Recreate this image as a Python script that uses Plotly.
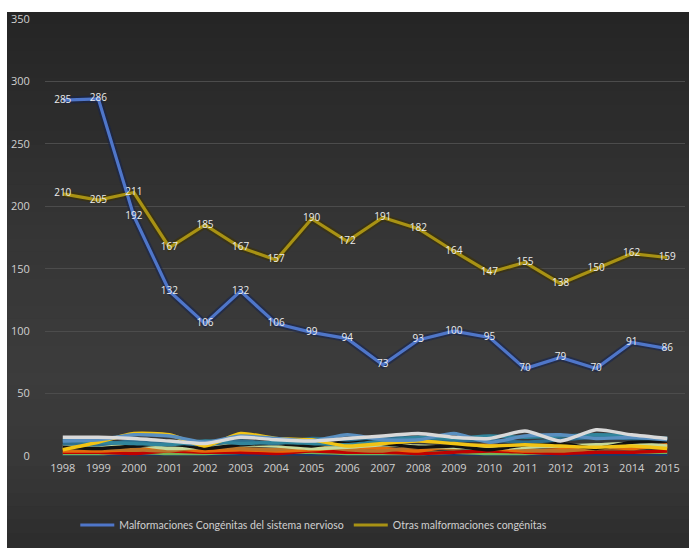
import plotly.graph_objects as go

years = [str(y) for y in range(1998, 2016)]

# main series
nervioso = [285, 286, 192, 132, 106, 132, 106, 99, 94, 73, 93, 100, 95, 70, 79, 70, 91, 86]
otras = [210, 205, 211, 167, 185, 167, 157, 190, 172, 191, 182, 164, 147, 155, 138, 150, 162, 159]

# minor groups (not shown in legend)
grupo_a = [15, 15, 14, 12, 10, 15, 13, 12, 14, 16, 18, 15, 14, 20, 12, 21, 17, 14]
grupo_b = [12, 13, 17, 16, 11, 16, 14, 12, 17, 13, 13, 18, 11, 16, 17, 14, 15, 13]
grupo_c = [5, 11, 18, 17, 8, 18, 14, 13, 8, 10, 12, 10, 8, 9, 8, 7, 8, 6]
grupo_d = [7, 6, 8, 10, 6, 9, 10, 8, 12, 10, 7, 8, 5, 9, 10, 6, 11, 12]
grupo_e = [10, 9, 12, 11, 9, 12, 10, 14, 13, 15, 14, 12, 13, 11, 13, 15, 14, 14]
grupo_f = [4, 4, 5, 6, 4, 5, 4, 5, 7, 6, 4, 8, 6, 4, 5, 7, 6, 9]
grupo_g = [6, 6, 5, 4, 7, 6, 5, 8, 5, 4, 7, 6, 9, 5, 4, 6, 8, 7]
grupo_h = [3, 3, 2, 4, 3, 3, 2, 4, 3, 3, 2, 3, 4, 3, 2, 3, 3, 4]
grupo_i = [2, 2, 3, 2, 2, 3, 3, 3, 2, 2, 2, 3, 2, 2, 3, 3, 3, 3]
grupo_j = [1, 1, 1, 0, 1, 1, 0, 1, 1, 1, 0, 1, 1, 0, 1, 1, 1, 1]
grupo_k = [0, 0, 1, 0, 0, 0, 1, 0, 0, 0, 1, 0, 0, 1, 0, 0, 0, 0]
grupo_l = [8, 7, 9, 6, 7, 9, 8, 6, 7, 9, 8, 7, 6, 7, 8, 9, 10, 8]
grupo_m = [13, 11, 10, 9, 12, 10, 11, 10, 9, 12, 15, 14, 16, 15, 16, 17, 16, 14]

menores = [
    (grupo_k, "#7030a0"), (grupo_j, "#1f3864"), (grupo_i, "#77b355"),
    (grupo_h, "#c00000"), (grupo_f, "#e46c0a"), (grupo_g, "#b8742a"),
    (grupo_l, "#c4d79b"), (grupo_d, "#111111"), (grupo_e, "#2f6f8f"),
    (grupo_m, "#31859c"), (grupo_c, "#f2c314"), (grupo_b, "#5a8fc0"),
    (grupo_a, "#d9d9d9"),
]

fig = go.Figure()

for vals, col in menores:
    fig.add_trace(go.Scatter(x=years, y=vals, mode="lines",
                             line=dict(color=col, width=3.4, shape="spline", smoothing=0.6),
                             showlegend=False, hoverinfo="skip"))

# soft glow under the main lines
fig.add_trace(go.Scatter(x=years, y=otras, mode="lines",
                         line=dict(color="rgba(60,50,0,0.55)", width=7),
                         showlegend=False, hoverinfo="skip"))
fig.add_trace(go.Scatter(x=years, y=nervioso, mode="lines",
                         line=dict(color="rgba(20,35,80,0.55)", width=7),
                         showlegend=False, hoverinfo="skip"))

fig.add_trace(go.Scatter(x=years, y=nervioso, mode="lines+text",
                         name="Malformaciones Congénitas del sistema nervioso",
                         line=dict(color="#4f76c9", width=3.2),
                         text=[str(v) for v in nervioso], textposition="middle center",
                         textfont=dict(color="#ececec", size=10, family="Open Sans")))
fig.add_trace(go.Scatter(x=years, y=otras, mode="lines+text",
                         name="Otras malformaciones congénitas",
                         line=dict(color="#a89214", width=3.2),
                         text=[str(v) for v in otras], textposition="middle center",
                         textfont=dict(color="#ececec", size=10, family="Open Sans")))

# pixel helpers for background bands
PT, PB, PL, PR = 19, 456, 45, 685
def py(p):
    return (PB - p) / (PB - PT)
def px(p):
    return (p - PL) / (PR - PL)

shapes = []
# dark chart background with a gentle vertical gradient
stops = [(12, 0x25), (120, 0x2c), (250, 0x36), (380, 0x3c), (470, 0x37), (548, 0x2c)]
bands = 40
for i in range(bands):
    y0 = 12 + (548 - 12) * i / bands
    y1 = 12 + (548 - 12) * (i + 1) / bands
    ym = (y0 + y1) / 2
    for (a, ca), (b, cb) in zip(stops[:-1], stops[1:]):
        if a <= ym <= b:
            c = int(round(ca + (cb - ca) * (ym - a) / (b - a)))
            break
    top = y0 if i == 0 else y0 - 1.5
    bot = y1 + 1.5 if i < bands - 1 else 560
    shapes.append(dict(type="rect", xref="paper", yref="paper", layer="below",
                       x0=px(7), x1=px(700), y0=py(bot), y1=py(top),
                       fillcolor=f"rgb({c},{c},{c})", line=dict(width=0)))

fig.update_layout(
    width=689, height=548,
    margin=dict(l=PL, r=689 - PR, t=PT, b=548 - PB),
    paper_bgcolor="white",
    plot_bgcolor="rgba(0,0,0,0)",
    shapes=shapes,
    showlegend=True,
    legend=dict(orientation="h", x=0.42, xanchor="center", y=py(525), yanchor="middle",
                font=dict(color="#cfcfcf", size=10.5, family="Lato"),
                bgcolor="rgba(0,0,0,0)", itemwidth=34),
    xaxis=dict(type="category", range=[-0.5, 17.5], showgrid=False, zeroline=False,
               showline=False, tickfont=dict(color="#d0d0d0", size=11, family="Open Sans"),
               ticks="outside", ticklen=2, tickcolor="rgba(0,0,0,0)"),
    yaxis=dict(range=[0, 350], dtick=50, showgrid=True, gridcolor="#4c4c4c", gridwidth=1,
               zeroline=False, showline=False,
               tickfont=dict(color="#d0d0d0", size=11, family="Open Sans"),
               ticks="outside", ticklen=12, tickcolor="rgba(0,0,0,0)"),
)

fig.write_html("out.html")
